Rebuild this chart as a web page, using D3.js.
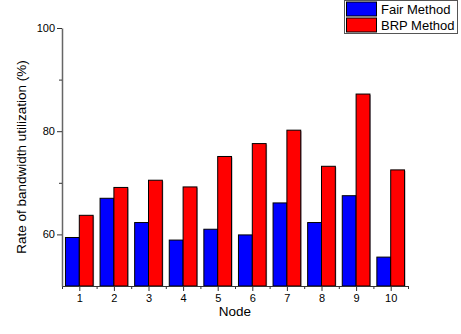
<!DOCTYPE html>
<html>
<head>
<meta charset="utf-8">
<script src="https://cdn.jsdelivr.net/npm/d3@7/dist/d3.min.js"></script>
<style>
  body { margin: 0; background: #fff; }
  svg { display: block; font-family: "Liberation Sans", Arial, sans-serif; }
</style>
</head>
<body>
<div id="chart"></div>
<script>
// chart data
const nodes = [1, 2, 3, 4, 5, 6, 7, 8, 9, 10];
const seriesNames = ["Fair Method", "BRP Method"];
const fairValues = [59.4, 67.0, 62.3, 58.9, 61.0, 59.9, 66.1, 62.3, 67.5, 55.6];
const brpValues = [63.7, 69.1, 70.5, 69.2, 75.1, 77.6, 80.2, 73.2, 87.2, 72.5];
const yTicks = [60, 80, 100];
const colors = ["#0000ff", "#ff0000"];

const width = 461, height = 334;
const margin = { top: 28, right: 53, bottom: 48, left: 62 };

const svg = d3.select("#chart").append("svg")
    .attr("width", width)
    .attr("height", height);

const x = d3.scaleLinear()
    .domain([0.5, 10.5])
    .range([margin.left, width - margin.right]);

const y = d3.scaleLinear()
    .domain([50, 100])
    .range([height - margin.bottom, margin.top]);

const step = x(2) - x(1);
const barW = step * 0.4;

// bars, one group per series
const series = [fairValues, brpValues];
series.forEach((vals, s) => {
    let g = svg.append("g");
    // soft shadow under each bar
    g.selectAll(".shadow")
        .data(vals)
        .enter().append("rect")
        .attr("x", (d, i) => x(nodes[i]) - barW + s * barW + 1)
        .attr("y", d => y(d) + 1)
        .attr("width", barW)
        .attr("height", d => y(50) - y(d))
        .attr("fill", "#b8a8b0");
    g.selectAll(".bar")
        .data(vals)
        .enter().append("rect")
        .attr("class", "bar")
        .attr("x", (d, i) => x(nodes[i]) - barW + s * barW)
        .attr("y", d => y(d))
        .attr("width", barW)
        .attr("height", d => y(50) - y(d))
        .attr("fill", colors[s])
        .attr("stroke", "#000")
        .attr("stroke-width", 1);
});

// x axis
const xAxis = svg.append("g")
    .attr("transform", "translate(0," + y(50) + ")");
xAxis.call(d3.axisBottom(x).tickValues(nodes).tickFormat(d3.format("d")).tickSize(5).tickSizeOuter(0))
    .call(g => g.select(".domain").attr("stroke", "#333"))
    .call(g => g.selectAll("line").attr("stroke", "#333"))
    .call(g => g.selectAll("text").attr("font-size", 11).attr("fill", "#000"));
xAxis.append("g")
    .call(d3.axisBottom(x).tickValues(d3.range(0.5, 11, 1)).tickFormat("").tickSize(3).tickSizeOuter(0))
    .call(g => g.select(".domain").remove())
    .call(g => g.selectAll("line").attr("stroke", "#333"));

// y axis
const yAxis = svg.append("g")
    .attr("transform", "translate(" + margin.left + ",0)");
yAxis.call(d3.axisLeft(y).tickValues(yTicks).tickSize(5).tickSizeOuter(0))
    .call(g => g.select(".domain").attr("stroke", "#666").attr("stroke-width", 1.5))
    .call(g => g.selectAll("line").attr("stroke", "#333"))
    .call(g => g.selectAll("text").attr("font-size", 11).attr("fill", "#000").attr("x", -7));
yAxis.append("g")
    .call(d3.axisLeft(y).tickValues([70, 90]).tickFormat("").tickSize(3).tickSizeOuter(0))
    .call(g => g.select(".domain").remove())
    .call(g => g.selectAll("line").attr("stroke", "#333"));

// axis titles
svg.append("text")
    .attr("x", x(5.5))
    .attr("y", 316)
    .attr("text-anchor", "middle")
    .attr("font-size", 13.5)
    .text("Node");

svg.append("text")
    .attr("transform", "translate(26," + ((y(50) + y(100)) / 2) + ")rotate(-90)")
    .attr("text-anchor", "middle")
    .attr("font-size", 13.5)
    .text("Rate of bandwidth utilization (%)");

// legend
const legend = svg.append("g").attr("transform", "translate(344,0)");
legend.append("rect")
    .attr("x", 0.5).attr("y", 0.5)
    .attr("width", 113).attr("height", 33)
    .attr("fill", "#fff")
    .attr("stroke", "#555");
seriesNames.forEach((name, i) => {
    legend.append("rect")
        .attr("x", 2.5).attr("y", 2 + i * 16)
        .attr("width", 30).attr("height", 14)
        .attr("fill", colors[i])
        .attr("stroke", "#000");
    legend.append("text")
        .attr("x", 37).attr("y", 14 + i * 16)
        .attr("font-size", 13)
        .text(name);
});
</script>
</body>
</html>
